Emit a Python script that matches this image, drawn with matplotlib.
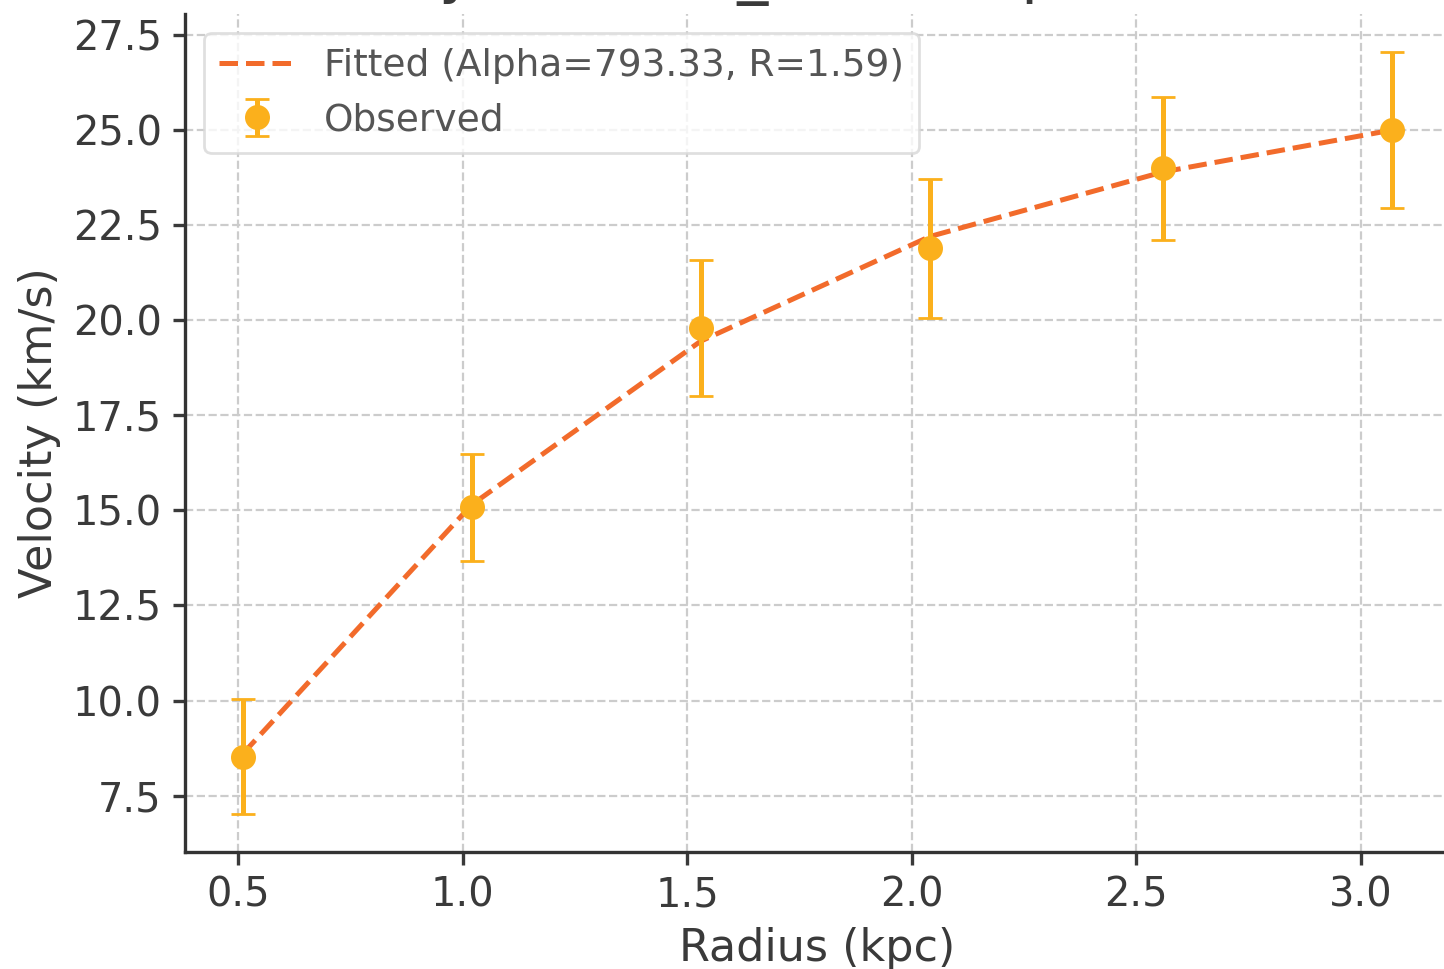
import numpy as np
import matplotlib
matplotlib.use("Agg")
import matplotlib.pyplot as plt

# observed rotation curve
radius = [0.51, 1.02, 1.53, 2.04, 2.56, 3.07]
velocity = [8.53, 15.08, 19.79, 21.89, 24.0, 25.0]
velocity_err = [1.51, 1.40, 1.79, 1.83, 1.88, 2.05]

# fitted model evaluated at the observed radii
fitted_velocity = [8.6, 15.15, 19.45, 22.2, 23.9, 25.0]
alpha_fit = 793.33
r_fit = 1.59

line_color = "#f26b2b"
point_color = "#fbb01c"
text_color = "#3a3a3a"

plt.rcParams["font.family"] = "DejaVu Sans"
plt.rcParams["text.color"] = text_color
plt.rcParams["axes.labelcolor"] = text_color
plt.rcParams["xtick.color"] = text_color
plt.rcParams["ytick.color"] = text_color

fig, ax = plt.subplots(figsize=(7.22, 4.845), dpi=200)
fig.subplots_adjust(left=0.1283, right=1.004, top=0.9856, bottom=0.1207)

ax.plot(radius, fitted_velocity, linestyle="--", color=line_color, lw=1.8,
        label=f"Fitted (Alpha={alpha_fit:.2f}, R={r_fit:.2f})", zorder=3)
ax.errorbar(radius, velocity, yerr=velocity_err, fmt="o", color=point_color,
            ms=8, elinewidth=1.8, capsize=4.3, capthick=1.0,
            label="Observed", zorder=4)

ax.set_xlabel("Radius (kpc)", fontsize=16, labelpad=4)
ax.set_ylabel("Velocity (km/s)", fontsize=16, labelpad=4)
ax.set_title("Velocity for NGC_3109 Exponential Fit", fontsize=22.3, pad=8.1)

ax.tick_params(labelsize=14.4, width=1.2, length=4.5, pad=4)
for side in ["top", "right"]:
    ax.spines[side].set_visible(False)
for side in ["left", "bottom"]:
    ax.spines[side].set_linewidth(1.2)
    ax.spines[side].set_color("#333333")

ax.grid(True, linestyle="--", color="#cccccc", linewidth=0.8)
ax.set_axisbelow(True)

leg = ax.legend(loc="upper left", fontsize=13.5, frameon=True, framealpha=0.8,
                edgecolor="#d8d8d8")
for t in leg.get_texts():
    t.set_color("#555555")

fig.savefig("out.png", dpi=200)
